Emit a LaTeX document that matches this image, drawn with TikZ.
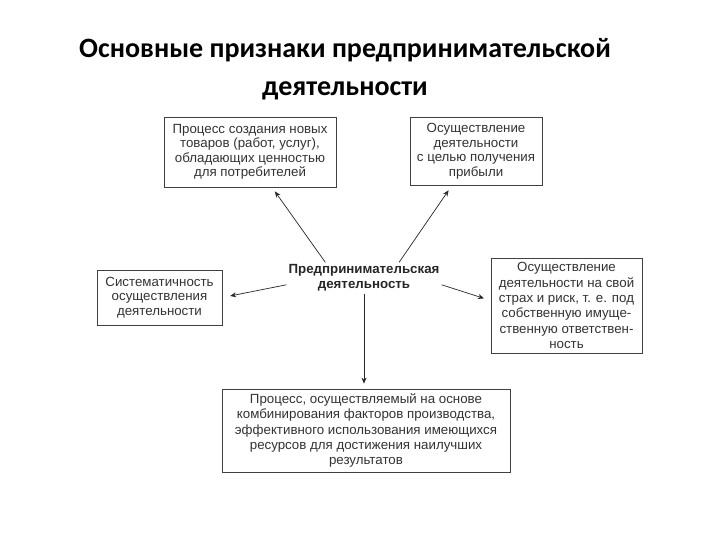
\documentclass[tikz,border=0pt]{standalone}
\usepackage{fontspec}
\setmainfont{Liberation Sans}
\newfontfamily\titlefont{Carlito}
\usetikzlibrary{arrows.meta,shadows}
\tikzset{
  box/.style={draw=black!75, line width=0.7pt, fill=white, align=center,
    font=\fontsize{13.3}{14.5}\selectfont, text=black!80, inner sep=0pt,
    drop shadow={shadow xshift=1.2pt, shadow yshift=-1.2pt, fill=black!50, opacity=1}},
  arr/.style={line width=0.7pt, draw=black!85, -{Stealth[length=6pt,width=5pt]}},
}
\begin{document}
\begin{tikzpicture}[x=1pt,y=-1pt]
\useasboundingbox (0,0) rectangle (720,540);
\node[font=\titlefont\bfseries\fontsize{28}{38}\selectfont, align=center] (title) at (345,69)
  {Основные признаки предпринимательской\\деятельности};
\node[box, minimum width=172pt, minimum height=70pt] (b1) at (250,152)
  {Процесс создания новых\\товаров (работ, услуг),\\обладающих ценностью\\для потребителей};
\node[box, minimum width=132pt, minimum height=68pt] (b2) at (476,151)
  {Осуществление\\деятельности\\с целью получения\\прибыли};
\node[box, minimum width=125pt, minimum height=55pt] (b3) at (159.5,297.5)
  {Систематичность\\осуществления\\деятельности};
\node[box, minimum width=151pt, minimum height=95pt, font=\fontsize{13.3}{15.3}\selectfont] (b4) at (566.5,305.5)
  {Осуществление\\деятельности на свой\\страх и риск, т. е. под\\собственную имуще-\\ственную ответствен-\\ность};
\node[box, minimum width=288pt, minimum height=83pt, font=\fontsize{13.3}{15.3}\selectfont] (b5) at (366,430.5)
  {Процесс, осуществляемый на основе\\комбинирования факторов производства,\\эффективного использования имеющихся\\ресурсов для достижения наилучших\\результатов};
\node[align=center, font=\bfseries\fontsize{13.3}{15}\selectfont, text=black!85, inner sep=2pt] (c) at (364,278)
  {Предпринимательская\\деятельность};
\draw[arr, shorten >=5pt] (c.158) -- ([xshift=22pt]b1.south);
\draw[arr, shorten >=6pt] (c.24) -- ([xshift=-24pt]b2.south);
\draw[arr, shorten >=8pt] (c.185) -- (b3.east);
\draw[arr, shorten >=7pt] (c.-5) -- ([yshift=5pt]b4.west);
\draw[arr, shorten >=5pt] (c.south) -- (c.south |- b5.north);
\end{tikzpicture}
\end{document}
